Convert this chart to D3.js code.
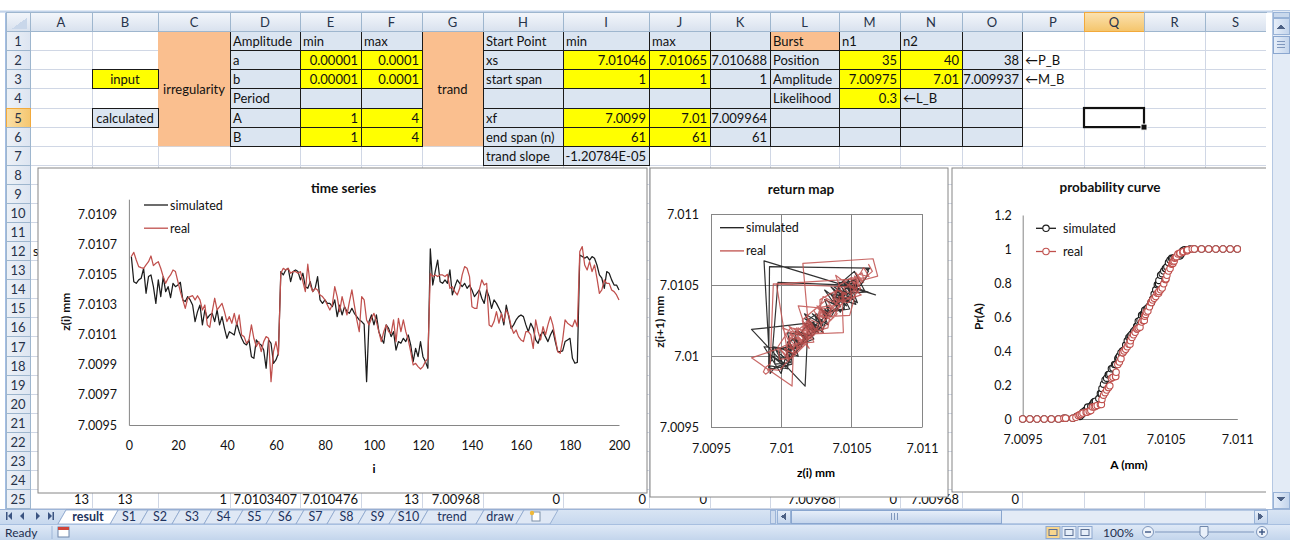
<!DOCTYPE html>
<html>
<head>
<meta charset="utf-8">
<script src="https://cdn.jsdelivr.net/npm/d3@7"></script>
<style>
  body { margin: 0; background: #fff; }
  svg { display: block; }
  text { font-family: Lato, "Open Sans", "Liberation Sans", sans-serif; }
</style>
</head>
<body>
<svg id="sheet" width="1290" height="540"></svg>
<script>
// ---------- measured series z(i), i = 1..200 ----------
const simulated = [
  7.010619,7.010452,7.010441,7.010464,7.010475,7.010541,7.010375,7.010486,7.010497,7.010419,
  7.010308,7.010464,7.010353,7.010486,7.010386,7.010419,7.010346,7.010441,7.010419,7.010430,
  7.010448,7.010331,7.010320,7.010353,7.010331,7.010297,7.010187,7.010253,7.010297,7.010165,
  7.010264,7.010209,7.010231,7.010242,7.010187,7.010264,7.010165,7.010220,7.010142,7.010076,
  7.010120,7.010109,7.010098,7.010176,7.010120,7.010076,7.010043,7.010032,7.010065,7.009954,
  7.009943,7.010065,7.010043,7.010032,7.009998,7.009877,7.010065,7.010043,7.009910,7.009932,
  7.009976,7.010519,7.010497,7.010530,7.010541,7.010452,7.010519,7.010530,7.010519,7.010464,
  7.010508,7.010419,7.010408,7.010452,7.010386,7.010408,7.010486,7.010331,7.010308,7.010331,
  7.010308,7.010308,7.010286,7.010331,7.010220,7.010297,7.010231,7.010286,7.010253,7.010242,
  7.010275,7.010242,7.010220,7.010198,7.010187,7.010169,7.009788,7.010187,7.010231,7.010165,
  7.010231,7.010120,7.010076,7.010043,7.010165,7.010142,7.010087,7.010120,7.009998,7.010054,
  7.010043,7.010076,7.010054,7.010098,7.010032,7.009921,7.010009,7.009954,7.010054,7.009954,
  7.009921,7.009877,7.010670,7.010430,7.010519,7.010596,7.010452,7.010441,7.010464,7.010441,
  7.010530,7.010364,7.010419,7.010464,7.010441,7.010419,7.010441,7.010408,7.010430,7.010397,
  7.010353,7.010375,7.010397,7.010342,7.010308,7.010397,7.010353,7.010275,7.010331,7.010308,
  7.010275,7.010242,7.010165,7.010297,7.010220,7.010142,7.010165,7.010198,7.010220,7.010231,
  7.010220,7.010165,7.010120,7.010176,7.010142,7.010065,7.010043,7.010098,7.010120,7.010087,
  7.010054,7.010098,7.010131,7.010054,7.009987,7.009987,7.009992,7.010054,7.010065,7.010076,
  7.009943,7.009910,7.009916,7.010630,7.010619,7.010608,7.010619,7.010596,7.010619,7.010608,
  7.010563,7.010497,7.010475,7.010408,7.010519,7.010508,7.010464,7.010430,7.010430,7.010397
];
const real = [
  7.010619,7.010647,7.010596,7.010552,7.010545,7.010541,7.010563,7.010585,7.010623,7.010559,
  7.010574,7.010585,7.010541,7.010486,7.010441,7.010475,7.010497,7.010530,7.010519,7.010452,
  7.010386,7.010331,7.010275,7.010342,7.010353,7.010359,7.010331,7.010359,7.010331,7.010264,
  7.010297,7.010165,7.010149,7.010253,7.010342,7.010264,7.010286,7.010308,7.010253,7.010187,
  7.010220,7.010176,7.010242,7.010165,7.010231,7.010098,7.010087,7.010043,7.010065,7.010165,
  7.010076,7.010021,7.010054,7.009987,7.010054,7.010087,7.010076,7.009788,7.009987,7.010054,
  7.009965,7.010508,7.010541,7.010530,7.010541,7.010508,7.010519,7.010519,7.010508,7.010519,
  7.010452,7.010386,7.010568,7.010430,7.010386,7.010408,7.010397,7.010364,7.010353,7.010331,
  7.010297,7.010264,7.010297,7.010419,7.010353,7.010253,7.010353,7.010286,7.010231,7.010320,
  7.010397,7.010297,7.010198,7.010120,7.010353,7.010331,7.010198,7.010165,7.010209,7.010242,
  7.010187,7.010120,7.010054,7.010120,7.010165,7.010120,7.010109,7.010198,7.010054,7.010209,
  7.010120,7.010198,7.010120,7.010065,7.009987,7.009899,7.009910,7.009888,7.009872,7.009888,
  7.009921,7.009943,7.010508,7.010486,7.010497,7.010486,7.010497,7.010497,7.010486,7.010501,
  7.010408,7.010419,7.010386,7.010364,7.010408,7.010497,7.010552,7.010541,7.010486,7.010286,
  7.010275,7.010275,7.010397,7.010464,7.010430,7.010441,7.010165,7.010153,7.010187,7.010253,
  7.010176,7.010242,7.010187,7.010264,7.010231,7.010153,7.010109,7.010131,7.010087,7.010065,
  7.010054,7.010120,7.010120,7.010098,7.010009,7.010198,7.010120,7.010065,7.010153,7.010098,
  7.010165,7.010220,7.010165,7.010076,7.009987,7.009976,7.010065,7.010198,7.010176,7.010165,
  7.010153,7.010198,7.010153,7.010652,7.010685,7.010563,7.010530,7.010585,7.010519,7.010563,
  7.010475,7.010375,7.010397,7.010464,7.010441,7.010441,7.010397,7.010386,7.010364,7.010331
];

// ---------- axis ticks ----------
const tsXTicks = [0, 20, 40, 60, 80, 100, 120, 140, 160, 180, 200];
const tsYTicks = [7.0095, 7.0097, 7.0099, 7.0101, 7.0103, 7.0105, 7.0107, 7.0109];
const mapTicks = [7.0095, 7.01, 7.0105, 7.011];
const probXTicks = [7.0095, 7.01, 7.0105, 7.011];
const probYTicks = [0, 0.2, 0.4, 0.6, 0.8, 1, 1.2];
const seriesNames = ["simulated", "real"];

// ---------- worksheet content ----------
const columnLetters = ["A","B","C","D","E","F","G","H","I","J","K","L","M","N","O","P","Q","R","S"];
const cells = [
  { ref: "B3", text: "input", fill: "yellow", align: "middle", box: true },
  { ref: "B5", text: "calculated", fill: "blue", align: "middle", box: true },
  { ref: "C1:C6", text: "irregularity", fill: "orange", align: "middle" },
  { ref: "G1:G6", text: "trand", fill: "orange", align: "middle" },
  { ref: "D1", text: "Amplitude", fill: "blue", box: true },
  { ref: "E1", text: "min", fill: "blue", box: true },
  { ref: "F1", text: "max", fill: "blue", box: true },
  { ref: "D2", text: "a", fill: "blue", box: true },
  { ref: "E2", text: "0.00001", fill: "yellow", align: "end", box: true },
  { ref: "F2", text: "0.0001", fill: "yellow", align: "end", box: true },
  { ref: "D3", text: "b", fill: "blue", box: true },
  { ref: "E3", text: "0.00001", fill: "yellow", align: "end", box: true },
  { ref: "F3", text: "0.0001", fill: "yellow", align: "end", box: true },
  { ref: "D4", text: "Period", fill: "blue", box: true },
  { ref: "E4", text: "", fill: "blue", box: true },
  { ref: "F4", text: "", fill: "blue", box: true },
  { ref: "D5", text: "A", fill: "blue", box: true },
  { ref: "E5", text: "1", fill: "yellow", align: "end", box: true },
  { ref: "F5", text: "4", fill: "yellow", align: "end", box: true },
  { ref: "D6", text: "B", fill: "blue", box: true },
  { ref: "E6", text: "1", fill: "yellow", align: "end", box: true },
  { ref: "F6", text: "4", fill: "yellow", align: "end", box: true },
  { ref: "H1", text: "Start Point", fill: "blue", box: true },
  { ref: "I1", text: "min", fill: "blue", box: true },
  { ref: "J1", text: "max", fill: "blue", box: true },
  { ref: "K1", text: "", fill: "blue", box: true },
  { ref: "H2", text: "xs", fill: "blue", box: true },
  { ref: "I2", text: "7.01046", fill: "yellow", align: "end", box: true },
  { ref: "J2", text: "7.01065", fill: "yellow", align: "end", box: true },
  { ref: "K2", text: "7.010688", fill: "blue", align: "end", box: true },
  { ref: "H3", text: "start span", fill: "blue", box: true },
  { ref: "I3", text: "1", fill: "yellow", align: "end", box: true },
  { ref: "J3", text: "1", fill: "yellow", align: "end", box: true },
  { ref: "K3", text: "1", fill: "blue", align: "end", box: true },
  { ref: "H4", text: "", fill: "blue", box: true },
  { ref: "I4", text: "", fill: "blue", box: true },
  { ref: "J4", text: "", fill: "blue", box: true },
  { ref: "K4", text: "", fill: "blue", box: true },
  { ref: "H5", text: "xf", fill: "blue", box: true },
  { ref: "I5", text: "7.0099", fill: "yellow", align: "end", box: true },
  { ref: "J5", text: "7.01", fill: "yellow", align: "end", box: true },
  { ref: "K5", text: "7.009964", fill: "blue", align: "end", box: true },
  { ref: "H6", text: "end span (n)", fill: "blue", box: true },
  { ref: "I6", text: "61", fill: "yellow", align: "end", box: true },
  { ref: "J6", text: "61", fill: "yellow", align: "end", box: true },
  { ref: "K6", text: "61", fill: "blue", align: "end", box: true },
  { ref: "H7", text: "trand slope", fill: "blue", box: true },
  { ref: "I7", text: "-1.20784E-05", fill: "blue", align: "end", box: true },
  { ref: "L1", text: "Burst", fill: "orange", box: true },
  { ref: "M1", text: "n1", fill: "blue", box: true },
  { ref: "N1", text: "n2", fill: "blue", box: true },
  { ref: "O1", text: "", fill: "blue", box: true },
  { ref: "L2", text: "Position", fill: "blue", box: true },
  { ref: "M2", text: "35", fill: "yellow", align: "end", box: true },
  { ref: "N2", text: "40", fill: "yellow", align: "end", box: true },
  { ref: "O2", text: "38", fill: "blue", align: "end", box: true },
  { ref: "L3", text: "Amplitude", fill: "blue", box: true },
  { ref: "M3", text: "7.00975", fill: "yellow", align: "end", box: true },
  { ref: "N3", text: "7.01", fill: "yellow", align: "end", box: true },
  { ref: "O3", text: "7.009937", fill: "blue", align: "end", box: true },
  { ref: "L4", text: "Likelihood", fill: "blue", box: true },
  { ref: "M4", text: "0.3", fill: "yellow", align: "end", box: true },
  { ref: "N4", text: "\u2190L_B", fill: "blue", box: true },
  { ref: "O4", text: "", fill: "blue", box: true },
  { ref: "L5", text: "", fill: "blue", box: true },
  { ref: "M5", text: "", fill: "blue", box: true },
  { ref: "N5", text: "", fill: "blue", box: true },
  { ref: "O5", text: "", fill: "blue", box: true },
  { ref: "L6", text: "", fill: "blue", box: true },
  { ref: "M6", text: "", fill: "blue", box: true },
  { ref: "N6", text: "", fill: "blue", box: true },
  { ref: "O6", text: "", fill: "blue", box: true },
  { ref: "P2", text: "\u2190P_B" },
  { ref: "P3", text: "\u2190M_B" },
  { ref: "A12", text: "s" },
  { ref: "A25", text: "13", align: "end" },
  { ref: "B25", text: "13", align: "middle" },
  { ref: "C25", text: "1", align: "end" },
  { ref: "D25", text: "7.0103407", align: "end" },
  { ref: "E25", text: "7.010476", align: "end" },
  { ref: "F25", text: "13", align: "end" },
  { ref: "G25", text: "7.00968", align: "end" },
  { ref: "H25", text: "0", align: "end" },
  { ref: "I25", text: "0", align: "end" },
  { ref: "J25", text: "0", align: "end" },
  { ref: "L25", text: "7.00968", align: "end" },
  { ref: "M25", text: "0", align: "end" },
  { ref: "N25", text: "7.00968", align: "end" },
  { ref: "O25", text: "0", align: "end" }
];
const sheetTabs = ["result","S1","S2","S3","S4","S5","S6","S7","S8","S9","S10","trend","draw"];

// ---------- layout ----------
const colEdges = [30, 92, 158, 230, 300, 361, 422, 483, 563, 649, 710, 770, 839, 900, 962, 1022, 1084, 1144, 1205, 1266];
const headerTop = 12.7, gridTop = 31.7, rowH = 19.08, rowCount = 25;
const rowTop = r => gridTop + (r - 1) * rowH;
const fills = { yellow: "#ffff00", blue: "#dbe5f1", orange: "#fabf8f" };
const selectedCol = "Q", selectedRow = 5;

const svg = d3.select("#sheet");
const defs = svg.append("defs");
function vGrad(id, stops) {
  const g = defs.append("linearGradient").attr("id", id).attr("x1", 0).attr("y1", 0).attr("x2", 0).attr("y2", 1);
  stops.forEach(([o, c]) => g.append("stop").attr("offset", o).attr("stop-color", c));
}
function hGrad(id, stops) {
  const g = defs.append("linearGradient").attr("id", id).attr("x1", 0).attr("y1", 0).attr("x2", 1).attr("y2", 0);
  stops.forEach(([o, c]) => g.append("stop").attr("offset", o).attr("stop-color", c));
}
vGrad("hdr", [[0, "#f3f6fb"], [1, "#d8e1ee"]]);
vGrad("hdrSel", [[0, "#fbe2b0"], [1, "#f4c46a"]]);
hGrad("rowHdr", [[0, "#eef2f8"], [1, "#dde5f1"]]);
hGrad("rowHdrSel", [[0, "#fbe0a8"], [1, "#f5c770"]]);
vGrad("tabBar", [[0, "#d9e5f4"], [1, "#c7d8ee"]]);
vGrad("status", [[0, "#e0eaf7"], [1, "#c3d5ec"]]);
vGrad("thumb", [[0, "#e9f0fa"], [1, "#c4d5ec"]]);
hGrad("vthumb", [[0, "#e9f0fa"], [1, "#c4d5ec"]]);

function refRect(ref) {
  const parts = ref.split(":");
  const p = s => ({ c: columnLetters.indexOf(s.match(/[A-Z]+/)[0]), r: +s.match(/\d+/)[0] });
  const a = p(parts[0]), b = p(parts[1] || parts[0]);
  return { x: colEdges[a.c], y: rowTop(a.r), w: colEdges[b.c + 1] - colEdges[a.c], h: rowTop(b.r + 1) - rowTop(a.r) };
}

// ---------- worksheet grid ----------
svg.append("rect").attr("width", 1290).attr("height", 540).attr("fill", "#fff");
svg.append("rect").attr("x", 0).attr("y", 10.5).attr("width", 1290).attr("height", 2.2).attr("fill", "#c2d3ea");
const grid = svg.append("g").attr("stroke", "#d0d7e5").attr("stroke-width", 1).attr("shape-rendering", "crispEdges");
colEdges.forEach(x => grid.append("line").attr("x1", x).attr("x2", x).attr("y1", gridTop).attr("y2", rowTop(rowCount + 1)));
d3.range(1, rowCount + 2).forEach(r => grid.append("line").attr("x1", colEdges[0]).attr("x2", colEdges[colEdges.length - 1]).attr("y1", rowTop(r)).attr("y2", rowTop(r)));

const cellG = svg.append("g");
cells.filter(c => c.fill).forEach(c => {
  const r = refRect(c.ref);
  cellG.append("rect").attr("x", r.x).attr("y", r.y).attr("width", r.w).attr("height", r.h).attr("fill", fills[c.fill]);
});
cells.filter(c => c.box).forEach(c => {
  const r = refRect(c.ref);
  cellG.append("rect").attr("x", r.x).attr("y", r.y).attr("width", r.w).attr("height", r.h)
    .attr("fill", "none").attr("stroke", "#1a1a1a").attr("stroke-width", 1).attr("shape-rendering", "crispEdges");
});
cells.filter(c => c.text).forEach(c => {
  const r = refRect(c.ref);
  const align = c.align || "start";
  const x = align === "start" ? r.x + 3 : align === "end" ? r.x + r.w - 3 : r.x + r.w / 2;
  cellG.append("text").attr("x", x).attr("y", r.y + r.h / 2 + 5).attr("text-anchor", align)
    .attr("font-size", 13).attr("fill", "#111").text(c.text);
});

// selected cell
{
  const r = refRect(selectedCol + selectedRow);
  svg.append("rect").attr("x", r.x).attr("y", r.y).attr("width", r.w).attr("height", r.h)
    .attr("fill", "none").attr("stroke", "#111").attr("stroke-width", 2.2);
  svg.append("rect").attr("x", r.x + r.w - 3).attr("y", r.y + r.h - 3).attr("width", 6).attr("height", 6)
    .attr("fill", "#111").attr("stroke", "#fff").attr("stroke-width", 1);
}

// column and row headers
const hdr = svg.append("g").attr("shape-rendering", "crispEdges");
hdr.append("rect").attr("x", 6).attr("y", headerTop).attr("width", 24).attr("height", gridTop - headerTop).attr("fill", "url(#hdr)").attr("stroke", "#9eb6ce");
hdr.append("path").attr("d", `M27,${gridTop - 3} L27,${headerTop + 5} L12,${gridTop - 3} Z`).attr("fill", "#c9d7ea").attr("stroke", "none");
columnLetters.forEach((L, i) => {
  const sel = L === selectedCol;
  hdr.append("rect").attr("x", colEdges[i]).attr("y", headerTop).attr("width", colEdges[i + 1] - colEdges[i]).attr("height", gridTop - headerTop)
    .attr("fill", sel ? "url(#hdrSel)" : "url(#hdr)").attr("stroke", sel ? "#f2a93b" : "#9eb6ce");
  hdr.append("text").attr("x", (colEdges[i] + colEdges[i + 1]) / 2).attr("y", headerTop + 14).attr("text-anchor", "middle")
    .attr("font-size", 13).attr("fill", "#27334a").text(L);
});
d3.range(1, rowCount + 1).forEach(r => {
  const sel = r === selectedRow;
  hdr.append("rect").attr("x", 6).attr("y", rowTop(r)).attr("width", 24).attr("height", rowH)
    .attr("fill", sel ? "url(#rowHdrSel)" : "url(#rowHdr)").attr("stroke", sel ? "#f2a93b" : "#9eb6ce");
  hdr.append("text").attr("x", 18).attr("y", rowTop(r) + rowH / 2 + 5).attr("text-anchor", "middle")
    .attr("font-size", 13).attr("fill", "#27334a").text(r);
});
svg.append("line").attr("x1", 5.5).attr("x2", 5.5).attr("y1", headerTop).attr("y2", 509).attr("stroke", "#a3bde3");

// ---------- chart helpers ----------
const GREY = "#868686";
const SIM = "#1c1c1c", REAL = "#c0504d";
const fmt = d => String(+d.toFixed(4));

function chartBox(x, y, w, h) {
  const g = svg.append("g");
  g.append("rect").attr("x", x + 0.5).attr("y", y + 0.5).attr("width", w).attr("height", h)
    .attr("fill", "#fff").attr("stroke", GREY).attr("stroke-width", 1);
  return g;
}
function styleAxis(sel, size) {
  sel.selectAll(".domain").attr("stroke", GREY).attr("stroke-width", 1);
  sel.selectAll(".tick line").remove();
  sel.selectAll("text").attr("font-size", size || 12).attr("fill", "#111")
    .style("font-family", 'Lato, "Open Sans", sans-serif');
}
function title(g, x, y, t, size) {
  g.append("text").attr("x", x).attr("y", y).attr("text-anchor", "middle")
    .attr("font-size", size || 13.5).attr("font-weight", "bold").attr("fill", "#111").text(t);
}
function rotTitle(g, x, y, t) {
  g.append("text").attr("transform", `translate(${x},${y}) rotate(-90)`).attr("text-anchor", "middle")
    .attr("font-size", 12).attr("font-weight", "bold").attr("fill", "#111").text(t);
}
function legend(g, x, y, withMarker) {
  seriesNames.forEach((name, k) => {
    const c = k === 0 ? SIM : REAL;
    const yy = y + k * 23.2;
    g.append("line").attr("x1", x).attr("x2", x + (withMarker ? 20 : 24)).attr("y1", yy).attr("y2", yy)
      .attr("stroke", c).attr("stroke-width", 1.3);
    if (withMarker) g.append("circle").attr("cx", x + 10).attr("cy", yy).attr("r", 3.2)
      .attr("fill", "#fff").attr("stroke", c).attr("stroke-width", 1.1);
    g.append("text").attr("x", x + (withMarker ? 27 : 26)).attr("y", yy + 4.5)
      .attr("font-size", 12.5).attr("fill", "#111").text(name);
  });
}

// ---------- time series ----------
{
  const g = chartBox(37.5, 167.5, 609, 325);
  const x = d3.scaleLinear().domain([0, 200]).range([128.9, 619]);
  const y = d3.scaleLinear().domain([7.0095, 7.011]).range([425, 199.2]);
  g.append("g").attr("transform", "translate(0,425)")
    .call(d3.axisBottom(x).tickValues(tsXTicks).tickSize(0).tickSizeOuter(0).tickPadding(16).tickFormat(d3.format("d")))
    .call(s => styleAxis(s, 12.5));
  g.append("g").attr("transform", "translate(128.9,0)")
    .call(d3.axisLeft(y).tickValues(tsYTicks).tickSize(0).tickSizeOuter(0).tickPadding(12).tickFormat(fmt))
    .call(s => styleAxis(s, 12.5));
  const line = d3.line().x((d, i) => x(i + 1)).y(d => y(d));
  g.append("path").datum(simulated).attr("d", line).attr("fill", "none").attr("stroke", SIM).attr("stroke-width", 1.25).attr("stroke-linejoin", "round");
  g.append("path").datum(real).attr("d", line).attr("fill", "none").attr("stroke", REAL).attr("stroke-width", 1.25).attr("stroke-linejoin", "round");
  title(g, 343.6, 193, "time series");
  rotTitle(g, 70, 311.7, "z(i) mm");
  g.append("text").attr("x", 374).attr("y", 473).attr("text-anchor", "middle").attr("font-size", 12).attr("font-weight", "bold").text("i");
  legend(g, 144, 205, false);
}

// ---------- return map ----------
{
  const g = chartBox(649.5, 167.5, 298, 329);
  const x = d3.scaleLinear().domain([7.0095, 7.011]).range([711, 922]);
  const y = d3.scaleLinear().domain([7.0095, 7.011]).range([427, 214]);
  const gl = g.append("g").attr("stroke", GREY).attr("stroke-width", 1).attr("shape-rendering", "crispEdges");
  mapTicks.forEach(t => {
    gl.append("line").attr("x1", x(t)).attr("x2", x(t)).attr("y1", y.range()[0]).attr("y2", y.range()[1]);
    gl.append("line").attr("x1", x.range()[0]).attr("x2", x.range()[1]).attr("y1", y(t)).attr("y2", y(t));
  });
  g.append("g").attr("transform", "translate(0,427)")
    .call(d3.axisBottom(x).tickValues(mapTicks).tickSize(0).tickSizeOuter(0).tickPadding(17).tickFormat(fmt))
    .call(s => styleAxis(s, 12.5));
  g.append("g").attr("transform", "translate(711,0)")
    .call(d3.axisLeft(y).tickValues(mapTicks).tickSize(0).tickSizeOuter(0).tickPadding(12).tickFormat(fmt))
    .call(s => styleAxis(s, 12.5));
  // z(i) against z(i+1)
  const line = d3.line().x(p => x(p[0])).y(p => y(p[1]));
  g.append("path").datum(d3.pairs(simulated)).attr("d", line).attr("fill", "none").attr("stroke", SIM).attr("stroke-width", 1.2).attr("stroke-opacity", 0.9).attr("stroke-linejoin", "round");
  g.append("path").datum(d3.pairs(real)).attr("d", line).attr("fill", "none").attr("stroke", REAL).attr("stroke-width", 1.2).attr("stroke-opacity", 0.85).attr("stroke-linejoin", "round");
  title(g, 801, 194, "return map");
  rotTitle(g, 664, 321.7, "z(i+1) mm");
  g.append("text").attr("x", 816).attr("y", 477).attr("text-anchor", "middle").attr("font-size", 12).attr("font-weight", "bold").text("z(i) mm");
  legend(g, 720, 227.7, false);
}

// ---------- probability curve ----------
{
  const g = chartBox(951.5, 167.5, 319, 324);
  const x = d3.scaleLinear().domain([7.0095, 7.011]).range([1022.7, 1237.3]);
  const y = d3.scaleLinear().domain([0, 1.2]).range([419, 215]);
  g.append("g").attr("transform", "translate(0,419)")
    .call(d3.axisBottom(x).tickValues(probXTicks).tickSize(0).tickSizeOuter(0).tickPadding(16).tickFormat(fmt))
    .call(s => styleAxis(s, 12.5));
  g.append("g").attr("transform", "translate(1022.7,0)")
    .call(d3.axisLeft(y).tickValues(probYTicks).tickSize(0).tickSizeOuter(0).tickPadding(11).tickFormat(d => String(+d.toFixed(1))))
    .call(s => styleAxis(s, 12.5));

  // empirical distribution Pr(z <= A), evaluated on a fixed A grid plus every observed value
  const evalGrid = d3.range(31).map(k => +(7.0095 + k * 0.00005).toFixed(5));
  function cdf(values) {
    const sorted = values.slice().sort(d3.ascending);
    const pts = Array.from(new Set(evalGrid.concat(sorted))).sort(d3.ascending);
    return pts.map(a => [a, d3.bisectRight(sorted, a) / sorted.length]);
  }
  const line = d3.line().x(p => x(p[0])).y(p => y(p[1]));
  [[simulated, SIM], [real, REAL]].forEach(([vals, c]) => {
    const pts = cdf(vals);
    g.append("path").datum(pts).attr("d", line).attr("fill", "none").attr("stroke", c).attr("stroke-width", 1.2);
    g.append("g").selectAll("circle").data(pts).join("circle")
      .attr("cx", p => x(p[0])).attr("cy", p => y(p[1])).attr("r", 3.2)
      .attr("fill", "#fff").attr("stroke", c).attr("stroke-width", 1.1);
  });
  title(g, 1110, 192, "probability curve");
  rotTitle(g, 983, 316.7, "Pr(A)");
  g.append("text").attr("x", 1129).attr("y", 469).attr("text-anchor", "middle").attr("font-size", 12).attr("font-weight", "bold").text("A (mm)");
  legend(g, 1036, 228.3, true);
}

// ---------- vertical scroll bar ----------
{
  const g = svg.append("g").attr("shape-rendering", "crispEdges");
  g.append("rect").attr("x", 1266).attr("y", headerTop).attr("width", 6).attr("height", 509 - headerTop).attr("fill", "#fff");
  g.append("rect").attr("x", 1272).attr("y", headerTop - 2).attr("width", 18).attr("height", 511 - headerTop).attr("fill", "#e3ebf6").attr("stroke", "#b5c8e3");
  g.append("rect").attr("x", 1273).attr("y", 12).attr("width", 16).attr("height", 5).attr("fill", "#c9d8ec").attr("stroke", "#98b2d6");
  g.append("rect").attr("x", 1273).attr("y", 18).attr("width", 16).attr("height", 16).attr("fill", "url(#vthumb)").attr("stroke", "#98b2d6");
  g.append("path").attr("d", "M1277,29 L1281,24 L1285,29 Z").attr("fill", "#4d6185").attr("shape-rendering", null);
  g.append("rect").attr("x", 1273).attr("y", 36).attr("width", 16).attr("height", 17).attr("fill", "url(#vthumb)").attr("stroke", "#8aa6cf");
  [41, 44, 47].forEach(yy => g.append("line").attr("x1", 1277).attr("x2", 1285).attr("y1", yy).attr("y2", yy).attr("stroke", "#7f97bd"));
  g.append("rect").attr("x", 1273).attr("y", 492).attr("width", 16).attr("height", 16).attr("fill", "url(#vthumb)").attr("stroke", "#98b2d6");
  g.append("path").attr("d", "M1277,497 L1281,502 L1285,497 Z").attr("fill", "#4d6185").attr("shape-rendering", null);
}

// ---------- sheet tabs ----------
{
  const g = svg.append("g");
  g.append("rect").attr("x", 0).attr("y", 509).attr("width", 1290).attr("height", 15).attr("fill", "url(#tabBar)");
  g.append("line").attr("x1", 0).attr("x2", 1290).attr("y1", 509.5).attr("y2", 509.5).attr("stroke", "#9db5d8");
  // navigation buttons
  const nav = g.append("g").attr("fill", "#3b5482");
  nav.append("rect").attr("x", 6).attr("y", 512).attr("width", 1.5).attr("height", 8);
  nav.append("path").attr("d", "M8,516 L12,512 L12,520 Z");
  nav.append("path").attr("d", "M20,516 L24,512 L24,520 Z");
  nav.append("path").attr("d", "M36,512 L40,516 L36,520 Z");
  nav.append("path").attr("d", "M48,512 L52,516 L48,520 Z");
  nav.append("rect").attr("x", 52.5).attr("y", 512).attr("width", 1.5).attr("height", 8);

  const tabEdges = [62, 114, 144, 176, 208, 239, 270, 300, 331, 362, 393, 424, 480, 520];
  sheetTabs.forEach((name, i) => {
    const x0 = tabEdges[i], x1 = tabEdges[i + 1];
    const active = i === 0;
    g.append("path").attr("d", `M${x0 - 4},524 L${x0 + 4},510 L${x1 + 4},510 L${x1 - 4},524 Z`)
      .attr("fill", active ? "#ffffff" : "#dfe8f5").attr("stroke", "#8aa4cc").attr("stroke-width", 0.8);
    g.append("text").attr("x", (x0 + x1) / 2).attr("y", 521).attr("text-anchor", "middle")
      .attr("font-size", 12.5).attr("font-weight", active ? "bold" : "normal").attr("fill", "#1e3460").text(name);
  });
  // active tab drawn over its neighbours
  g.append("path").attr("d", `M58,524 L66,510 L118,510 L110,524 Z`).attr("fill", "#fff").attr("stroke", "#8aa4cc").attr("stroke-width", 0.8);
  g.append("text").attr("x", 88).attr("y", 521).attr("text-anchor", "middle").attr("font-size", 12.5).attr("font-weight", "bold").attr("fill", "#1e3460").text(sheetTabs[0]);
  // insert-sheet tab
  g.append("path").attr("d", "M516,524 L524,510 L558,510 L550,524 Z").attr("fill", "#dfe8f5").attr("stroke", "#8aa4cc").attr("stroke-width", 0.8);
  g.append("rect").attr("x", 532).attr("y", 512).attr("width", 8).attr("height", 9).attr("fill", "#fff").attr("stroke", "#7d8fa8");
  g.append("circle").attr("cx", 532).attr("cy", 513).attr("r", 2.2).attr("fill", "#f0b93a");

  // horizontal scroll bar
  const h = g.append("g").attr("shape-rendering", "crispEdges");
  h.append("rect").attr("x", 770).attr("y", 510).attr("width", 5).attr("height", 13).attr("fill", "#cfdcee").attr("stroke", "#9db5d8");
  h.append("rect").attr("x", 777).attr("y", 510).attr("width", 490).attr("height", 13).attr("fill", "#e3ebf6").attr("stroke", "#b5c8e3");
  h.append("rect").attr("x", 777).attr("y", 510).attr("width", 13).attr("height", 13).attr("fill", "url(#thumb)").attr("stroke", "#98b2d6");
  h.append("path").attr("d", "M786,512.5 L781,516.5 L786,520.5 Z").attr("fill", "#4d6185").attr("shape-rendering", null);
  h.append("rect").attr("x", 791).attr("y", 510).attr("width", 210).attr("height", 13).attr("fill", "url(#thumb)").attr("stroke", "#8aa6cf");
  [891, 894, 897].forEach(xx => h.append("line").attr("x1", xx).attr("x2", xx).attr("y1", 513).attr("y2", 520).attr("stroke", "#7f97bd"));
  h.append("rect").attr("x", 1254).attr("y", 510).attr("width", 13).attr("height", 13).attr("fill", "url(#thumb)").attr("stroke", "#98b2d6");
  h.append("path").attr("d", "M1258,512.5 L1263,516.5 L1258,520.5 Z").attr("fill", "#4d6185").attr("shape-rendering", null);
}

// ---------- status bar ----------
{
  const g = svg.append("g");
  g.append("rect").attr("x", 0).attr("y", 524).attr("width", 1290).attr("height", 16).attr("fill", "url(#status)");
  g.append("line").attr("x1", 0).attr("x2", 1290).attr("y1", 524.5).attr("y2", 524.5).attr("stroke", "#a7bfe0");
  g.append("text").attr("x", 5).attr("y", 537).attr("font-size", 12).attr("fill", "#1e2f4f").text("Ready");
  g.append("line").attr("x1", 52).attr("x2", 52).attr("y1", 526).attr("y2", 539).attr("stroke", "#9fb6d8");
  g.append("rect").attr("x", 58).attr("y", 527).attr("width", 11).attr("height", 10).attr("fill", "#fff").attr("stroke", "#6f86aa");
  g.append("rect").attr("x", 58).attr("y", 527).attr("width", 11).attr("height", 3).attr("fill", "#d0463b");
  // view buttons
  [1046, 1062, 1078].forEach((xx, i) => {
    g.append("rect").attr("x", xx).attr("y", 526.5).attr("width", 14).attr("height", 12)
      .attr("fill", i === 0 ? "#f7d58e" : "#e6eef9").attr("stroke", "#8ea8cf");
    g.append("rect").attr("x", xx + 3).attr("y", 529.5).attr("width", 8).attr("height", 6).attr("fill", "none").attr("stroke", "#5a6f94");
  });
  g.append("text").attr("x", 1103).attr("y", 537).attr("font-size", 12).attr("fill", "#1e2f4f").text("100%");
  g.append("circle").attr("cx", 1148).attr("cy", 532).attr("r", 5.5).attr("fill", "#eef3fa").attr("stroke", "#7f97bd");
  g.append("line").attr("x1", 1145).attr("x2", 1151).attr("y1", 532).attr("y2", 532).attr("stroke", "#3b5482").attr("stroke-width", 1.4);
  g.append("line").attr("x1", 1155).attr("x2", 1254).attr("y1", 532).attr("y2", 532).attr("stroke", "#7f97bd");
  g.append("line").attr("x1", 1204).attr("x2", 1204).attr("y1", 528).attr("y2", 536).attr("stroke", "#7f97bd");
  g.append("path").attr("d", "M1200,526.5 L1208,526.5 L1208,535 L1204,538.5 L1200,535 Z").attr("fill", "#e9f0fa").attr("stroke", "#6f86aa");
  g.append("circle").attr("cx", 1262).attr("cy", 532).attr("r", 5.5).attr("fill", "#eef3fa").attr("stroke", "#7f97bd");
  g.append("line").attr("x1", 1259).attr("x2", 1265).attr("y1", 532).attr("y2", 532).attr("stroke", "#3b5482").attr("stroke-width", 1.4);
  g.append("line").attr("x1", 1262).attr("x2", 1262).attr("y1", 529).attr("y2", 535).attr("stroke", "#3b5482").attr("stroke-width", 1.4);
}
</script>
</body>
</html>
